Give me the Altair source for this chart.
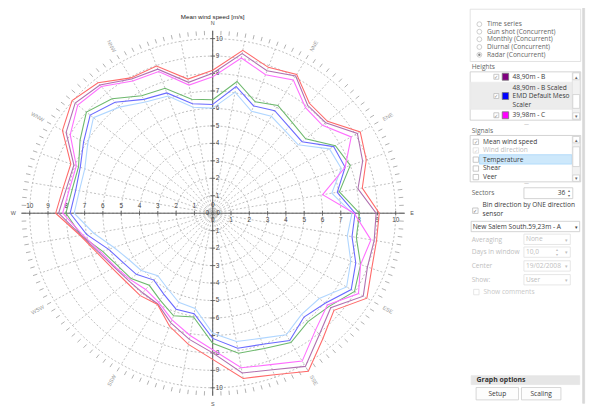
import altair as alt
import pandas as pd

# ---------------- data ----------------
sector_angles = [0, 10, 20, 30, 40, 50, 60, 70, 80, 90, 100, 110, 120, 130, 140, 150, 160, 170,
                 180, 190, 200, 210, 220, 230, 240, 250, 260, 270, 280, 290, 300, 310, 320, 330, 340, 350]

speed_red = [8.19, 9.47, 8.89, 9.18, 8.22, 8.19, 9.31, 8.93, 8.30, 9.10, 9.09, 9.25, 9.73, 8.65, 9.37, 10.45, 9.84, 9.61,
             8.37, 7.63, 6.89, 6.03, 6.16, 6.15, 6.33, 6.70, 7.35, 8.58, 8.30, 8.25, 9.48, 10.03, 9.75, 8.95, 8.97, 7.80]
speed_purple = [8.02, 9.28, 8.68, 9.07, 8.07, 8.06, 9.13, 8.72, 8.06, 8.93, 8.96, 9.00, 9.50, 8.42, 9.07, 10.13, 9.54, 9.29,
                8.00, 7.34, 6.68, 6.00, 5.95, 6.00, 6.20, 6.60, 7.30, 8.42, 8.12, 8.07, 9.25, 9.81, 9.59, 8.87, 8.78, 7.61]
speed_magenta = [7.81, 9.03, 8.44, 8.81, 7.89, 7.83, 8.74, 7.70, 6.10, 7.73, 8.78, 8.60, 9.20, 8.18, 8.74, 9.78, 9.23, 8.99,
                 7.82, 7.11, 6.50, 5.90, 5.70, 5.90, 6.15, 6.50, 7.20, 8.20, 7.95, 7.93, 8.99, 9.63, 9.47, 8.74, 8.63, 7.45]
speed_green = [6.50, 7.66, 6.79, 7.13, 6.77, 6.63, 7.74, 8.00, 7.03, 8.02, 7.97, 8.60, 8.95, 8.30, 8.10, 8.55, 8.24, 8.14,
               7.45, 6.03, 6.25, 5.75, 5.39, 5.82, 6.00, 6.40, 7.30, 8.02, 7.80, 7.80, 8.37, 9.01, 8.56, 7.77, 7.61, 6.63]
speed_blue = [6.23, 7.37, 6.54, 6.78, 6.47, 6.37, 7.63, 7.70, 6.91, 7.78, 7.73, 8.32, 8.74, 8.02, 7.76, 8.42, 7.99, 7.85,
              7.17, 5.84, 5.85, 5.35, 5.00, 5.45, 5.65, 6.05, 7.00, 7.79, 7.60, 7.70, 8.15, 8.74, 8.30, 7.53, 7.33, 6.37]
speed_lightblue = [6.02, 7.04, 6.21, 6.41, 6.16, 6.10, 7.37, 7.48, 6.61, 7.61, 7.47, 8.03, 8.45, 7.60, 7.56, 8.04, 7.63, 7.46,
                   6.88, 5.54, 5.43, 4.96, 4.67, 5.10, 5.30, 5.74, 6.60, 7.57, 7.40, 7.44, 7.89, 8.51, 7.93, 7.35, 7.14, 6.16]

series_names = ["39,98m - C Scaled", "48,90m - B Scaled EMD Default Meso Scaler", "59,23m - A Scaled",
                "39,98m - C", "48,90m - B", "59,23m - A"]
series_values = [speed_lightblue, speed_blue, speed_green, speed_magenta, speed_purple, speed_red]
series_colors = ["#b0d6ff", "#6a6aff", "#6db86d", "#ff6eff", "#b070b0", "#ff6a6a"]

ring_values = [1, 2, 3, 4, 5, 6, 7, 8, 9, 10]
axis_numbers = [1, 2, 3, 4, 5, 6, 7, 8, 9, 10]
compass_main = ["N", "E", "S", "W"]
compass_main_angles = [0, 90, 180, 270]
compass_minor = ["NNE", "ENE", "ESE", "SSE", "SSW", "WSW", "WNW", "NNW"]
compass_minor_angles = [30, 60, 120, 150, 210, 240, 300, 330]

# ---------------- layout ----------------
M = 8                      # page margin
W, H = 593, 398
CX, CY = 215.5 - M, 213.3 - M
KX, KY = 18.55, 17.7       # px per m/s
xs = alt.Scale(domain=[-CX / KX, (W - CX) / KX], nice=False, zero=False)
ys = alt.Scale(domain=[(CY - H) / KY, CY / KY], nice=False, zero=False)
FONT = "Liberation Sans"
UIFONT = "Open Sans"


def polar(chart, r, a, px="px", py="py"):
    return chart.transform_calculate(**{
        px: f"{r}*sin(({a})*PI/180)",
        py: f"{r}*cos(({a})*PI/180)",
    })


X = lambda f: alt.X(f"{f}:Q", scale=xs, axis=None)
Y = lambda f: alt.Y(f"{f}:Q", scale=ys, axis=None)

# series table
rows = []
for name, vals in zip(series_names, series_values):
    for i, (a, v) in enumerate(zip(sector_angles + [360], vals + [vals[0]])):
        rows.append({"series": name, "angle": a, "speed": v, "order": i})
df = pd.DataFrame(rows)

# grid rings
ring_df = pd.DataFrame([{"ring": r, "a": a} for r in ring_values for a in range(0, 361, 3)])
rings = polar(alt.Chart(ring_df), "datum.ring", "datum.a").mark_line(
    color="#a3a3a3", strokeWidth=0.7, strokeDash=[2, 2]).encode(
    x=X("px"), y=Y("py"), detail="ring:N", order="a:Q")

# spokes
spoke_df = pd.DataFrame({"a": sector_angles})
spokes = polar(alt.Chart(spoke_df), "10", "datum.a").transform_calculate(z="0").mark_rule(
    color="#a6a6a6", strokeWidth=0.7, strokeDash=[2, 2]).encode(
    x=X("z"), y=Y("z"), x2="px:Q", y2="py:Q")

# outer tick ring
otick_df = pd.DataFrame({"a": [i * 2.5 for i in range(144)]})
oticks = polar(polar(alt.Chart(otick_df), "10.2", "datum.a", "ax", "ay"), "10.45", "datum.a", "bx", "by").mark_rule(
    color="#8f8f8f", strokeWidth=0.7).encode(x=X("ax"), y=Y("ay"), x2="bx:Q", y2="by:Q")

# main axes
ax_df = pd.DataFrame({"x1": [-10.45, 0], "y1": [0, -10.45], "x2": [10.5, 0], "y2": [0, 10.45]})
axes = alt.Chart(ax_df).mark_rule(color="#555555", strokeWidth=1).encode(
    x=X("x1"), y=Y("y1"), x2="x2:Q", y2="y2:Q")

tick_rows = []
for n in axis_numbers:
    for s in (-1, 1):
        tick_rows.append({"x1": s * n, "y1": -0.13, "x2": s * n, "y2": 0.13})
        tick_rows.append({"x1": -0.13, "y1": s * n, "x2": 0.13, "y2": s * n})
axticks = alt.Chart(pd.DataFrame(tick_rows)).mark_rule(color="#555555", strokeWidth=0.8).encode(
    x=X("x1"), y=Y("y1"), x2="x2:Q", y2="y2:Q")

# axis number labels
num_left = pd.DataFrame({"v": [-n for n in axis_numbers], "t": [str(n) for n in axis_numbers], "z": 0})
num_right = pd.DataFrame({"v": axis_numbers, "t": [str(n) for n in axis_numbers], "z": 0})
num_vert = pd.DataFrame({"v": axis_numbers + [-n for n in axis_numbers],
                         "t": [str(n) for n in axis_numbers] * 2, "z": 0})
lab_kw = dict(font=FONT, fontSize=6.5, color="#444444")
lab_left = alt.Chart(num_left).mark_text(dy=-7, **lab_kw).encode(x=X("v"), y=Y("z"), text="t:N")
lab_right = alt.Chart(num_right).mark_text(dy=7, **lab_kw).encode(x=X("v"), y=Y("z"), text="t:N")
lab_vert = alt.Chart(num_vert).mark_text(dx=3, align="left", **lab_kw).encode(x=X("z"), y=Y("v"), text="t:N")
zero_df = pd.DataFrame({"x": [0, 0, -0.3, 0.3], "y": [0.45, -0.4, 0, 0], "t": ["0", "0", "0", "0"]})
lab_zero = alt.Chart(zero_df).mark_text(**lab_kw).encode(x=X("x"), y=Y("y"), text="t:N")
center_ring = alt.Chart(pd.DataFrame({"x": [0], "y": [0]})).mark_point(
    shape="circle", size=40, filled=False, color="#777777", strokeWidth=0.7).encode(x=X("x"), y=Y("y"))

# compass labels
cm_df = pd.DataFrame({"a": compass_main_angles, "t": compass_main})
compass1 = polar(alt.Chart(cm_df), "10.9", "datum.a").mark_text(
    font=FONT, fontSize=5.5, color="#555555").encode(x=X("px"), y=Y("py"), text="t:N")


def rot(theta):
    phi = 90 - theta
    while phi > 90:
        phi -= 180
    while phi <= -90:
        phi += 180
    return (-phi) % 360


cn_df = pd.DataFrame({"a": compass_minor_angles, "t": compass_minor,
                      "rot": [rot(t) for t in compass_minor_angles]})
compass2 = polar(alt.Chart(cn_df), "11.05", "datum.a").mark_text(
    font=FONT, fontSize=5.5, color="#9a9a9a").encode(
    x=X("px"), y=Y("py"), text="t:N", angle=alt.Angle("rot:Q", scale=None))

title = alt.Chart(pd.DataFrame({"x": [0], "y": [(213.3 - 14.5) / KY], "t": ["Mean wind speed [m/s]"]})).mark_text(
    font=FONT, fontSize=6.3, color="#222222").encode(x=X("x"), y=Y("y"), text="t:N")

# series lines
lines = polar(alt.Chart(df), "datum.speed", "datum.angle").mark_line(strokeWidth=1.1).encode(
    x=X("px"), y=Y("py"),
    color=alt.Color("series:N", scale=alt.Scale(domain=series_names, range=series_colors), legend=None),
    detail="series:N", order="order:Q")

# ---------------- side panel (page pixel coordinates) ----------------
rects = [
    # x1, y1, x2, y2, fill, stroke
    (590.5, 0, 592.5, 406, "#d9d9d9", "#d9d9d9"),
    (476.5, 6.5, 588.5, 59.5, "#ffffff", "#dcdcdc"),
    (476.5, 70, 588.5, 119, "#ffffff", "#c8c8c8"),
    (477, 80.5, 580, 108, "#ececec", "#ececec"),
    (580, 70.5, 588, 118.5, "#f2f2f2", "#dddddd"),
    (580.5, 71, 587.5, 78, "#ffffff", "#cfcfcf"),
    (580.5, 93, 587.5, 107, "#ffffff", "#cfcfcf"),
    (580.5, 111.5, 587.5, 118, "#ffffff", "#cfcfcf"),
    (500.5, 72.5, 505.5, 77.5, "#ffffff", "#bbbbbb"),
    (500.5, 92, 505.5, 97, "#ffffff", "#bbbbbb"),
    (500.5, 111.5, 505.5, 116.5, "#ffffff", "#bbbbbb"),
    (509, 71.5, 515.5, 78.5, "#800080", "#777777"),
    (509, 91, 515.5, 98, "#0000ff", "#777777"),
    (509, 110.5, 515.5, 117.5, "#ff00ff", "#777777"),
    (476.5, 134.5, 588.5, 181.5, "#ffffff", "#c8c8c8"),
    (486, 154, 579.5, 163.5, "#cde8fb", "#a8d6fa"),
    (580, 135, 588, 181, "#f2f2f2", "#dddddd"),
    (580.5, 135.5, 587.5, 142, "#ffffff", "#cfcfcf"),
    (580.5, 146, 587.5, 166, "#ffffff", "#cfcfcf"),
    (580.5, 174.5, 587.5, 181, "#ffffff", "#cfcfcf"),
    (479.5, 138.3, 485, 143.7, "#ffffff", "#bbbbbb"),
    (479.5, 147, 485, 152.4, "#ffffff", "#dddddd"),
    (479.5, 156.3, 485, 161.7, "#ffffff", "#bbbbbb"),
    (479.5, 165.3, 485, 170.7, "#ffffff", "#bbbbbb"),
    (479.5, 174, 485, 179.4, "#ffffff", "#bbbbbb"),
    (531, 187.5, 580.5, 198.5, "#ffffff", "#c8c8c8"),
    (479, 208, 484.5, 213.5, "#ffffff", "#bbbbbb"),
    (477.5, 221.5, 587.5, 232, "#ffffff", "#c8c8c8"),
    (531, 234.5, 578, 245, "#ffffff", "#e0e0e0"),
    (531, 247.5, 578, 258, "#ffffff", "#e0e0e0"),
    (531, 261.5, 578, 272, "#ffffff", "#e0e0e0"),
    (531, 275.5, 578, 286, "#ffffff", "#e0e0e0"),
    (480, 290.5, 485.5, 296, "#ffffff", "#e0e0e0"),
    (477.5, 378, 587.5, 387, "#e6e6e6", "#e6e6e6"),
    (482.5, 390, 525.5, 402.5, "#fdfdfd", "#cccccc"),
    (528.5, 390, 568.5, 402.5, "#fdfdfd", "#cccccc"),
]
rect_df = pd.DataFrame(rects, columns=["x1", "y1", "x2", "y2", "fill", "stroke"])
for c in ["x1", "x2", "y1", "y2"]:
    rect_df[c] = rect_df[c] - M
ui_rects = alt.Chart(rect_df).mark_rect(strokeWidth=0.8).encode(
    x=alt.X("x1:Q", scale=None), x2="x2:Q", y=alt.Y("y1:Q", scale=None), y2="y2:Q",
    fill=alt.Fill("fill:N", scale=None), stroke=alt.Stroke("stroke:N", scale=None))

G, L, D = "#666666", "#c0c0c0", "#3a3a3a"
T = 6.7
texts = [
    # x, y, text, color, size, align
    (493.5, 21.7, "Time series", G, T, "left"),
    (493.5, 29.3, "Gun shot (Concurrent)", G, T, "left"),
    (493.5, 37.0, "Monthly (Concurrent)", G, T, "left"),
    (493.5, 44.8, "Diurnal (Concurrent)", G, T, "left"),
    (493.5, 52.7, "Radar (Concurrent)", G, T, "left"),
    (478, 65, "Heights", G, T, "left"),
    (519.5, 75.5, "48,90m - B", D, T, "left"),
    (519.5, 86.6, "48,90m - B Scaled", D, T, "left"),
    (519.5, 95.0, "EMD Default Meso", D, T, "left"),
    (519.5, 103.4, "Scaler", D, T, "left"),
    (519.5, 114.2, "39,98m - C", D, T, "left"),
    (478, 129.5, "Signals", G, T, "left"),
    (489.5, 141, "Mean wind speed", D, T, "left"),
    (489.5, 149.7, "Wind direction", L, T, "left"),
    (489.5, 159, "Temperature", D, T, "left"),
    (489.5, 168, "Shear", D, T, "left"),
    (489.5, 176.7, "Veer", D, T, "left"),
    (478, 192.8, "Sectors", G, T, "left"),
    (573, 193, "36", D, T, "right"),
    (489, 205.5, "Bin direction by ONE direction", D, T, "left"),
    (489, 214.3, "sensor", D, T, "left"),
    (479, 226.8, "New Salem South.59,23m - A", D, T, "left"),
    (478, 240, "Averaging", L, T, "left"),
    (533, 239.7, "None", L, T, "left"),
    (478, 252.8, "Days in window", L, T, "left"),
    (533, 252.8, "10,0", L, T, "left"),
    (478, 266.8, "Center", L, T, "left"),
    (533, 266.8, "19/02/2008", L, T, "left"),
    (478, 280.8, "Show:", L, T, "left"),
    (533, 280.8, "User", L, T, "left"),
    (490, 293.4, "Show comments", "#c8c8c8", T, "left"),
    (504, 396.5, "Setup", D, T, "center"),
    (548.5, 396.5, "Scaling", D, T, "center"),
    (584, 74.8, "▴", G, 5, "center"),
    (584, 115, "▾", G, 5, "center"),
    (584, 139, "▴", G, 5, "center"),
    (584, 178, "▾", G, 5, "center"),
    (577, 190.8, "▴", G, 4, "center"),
    (577, 195.6, "▾", G, 4, "center"),
    (584, 227, "▾", D, 5, "center"),
    (574, 240, "▾", L, 5, "center"),
    (574, 253, "▾", L, 5, "center"),
    (565, 250.6, "▴", L, 4, "center"),
    (565, 255.2, "▾", L, 4, "center"),
    (574, 267, "▾", L, 5, "center"),
    (574, 281, "▾", L, 5, "center"),
    (503, 75.3, "✓", "#888888", 5.5, "center"),
    (503, 94.8, "✓", "#888888", 5.5, "center"),
    (503, 114.3, "✓", "#888888", 5.5, "center"),
    (482.3, 141.2, "✓", "#888888", 5.5, "center"),
    (482.3, 149.9, "✓", "#cccccc", 5.5, "center"),
    (481.8, 211, "✓", "#666666", 5.5, "center"),
    (533.5, 123.3, "—", "#aaaaaa", 5, "center"),
    (533.5, 182.8, "—", "#aaaaaa", 5, "center"),
]
tdf = pd.DataFrame(texts, columns=["x", "y", "text", "color", "size", "align"])
tdf["x"] = tdf["x"] - M
tdf["y"] = tdf["y"] - M
ui_text_layers = []
for al in ["left", "center", "right"]:
    sub = tdf[tdf["align"] == al]
    ui_text_layers.append(alt.Chart(sub).mark_text(align=al, baseline="middle", font=UIFONT).encode(
        x=alt.X("x:Q", scale=None), y=alt.Y("y:Q", scale=None), text="text:N",
        color=alt.Color("color:N", scale=None), size=alt.Size("size:Q", scale=None)))

bold_df = pd.DataFrame({"x": [483 - M], "y": [382.7 - M], "text": ["Graph options"]})
ui_bold = alt.Chart(bold_df).mark_text(align="left", baseline="middle", font=UIFONT, fontSize=7,
                                       fontWeight="bold", color="#333333").encode(
    x=alt.X("x:Q", scale=None), y=alt.Y("y:Q", scale=None), text="text:N")

radio_y = [21.7, 29.3, 37.0, 44.8, 52.7]
radio_df = pd.DataFrame({"x": [485.8 - M] * 5, "y": [v - M for v in radio_y]})
radios = alt.Chart(radio_df).mark_point(shape="circle", size=24, filled=False, color="#aaaaaa",
                                        strokeWidth=0.8).encode(
    x=alt.X("x:Q", scale=None), y=alt.Y("y:Q", scale=None))
radio_sel = alt.Chart(radio_df.iloc[[4]]).mark_point(shape="circle", size=6, filled=True, color="#555555").encode(
    x=alt.X("x:Q", scale=None), y=alt.Y("y:Q", scale=None))

chart = alt.layer(
    rings, spokes, oticks, axes, axticks, center_ring,
    lab_left, lab_right, lab_vert, lab_zero, compass1, compass2, title,
    lines,
    ui_rects, *ui_text_layers, ui_bold, radios, radio_sel,
).resolve_scale(
    x="independent", y="independent", color="independent", size="independent",
    fill="independent", stroke="independent", angle="independent"
).properties(
    width=W, height=H, padding=0, autosize=alt.AutoSizeParams(type="none")
).configure_view(strokeWidth=0)

chart.save("out.html", embed_options={"renderer": "svg", "actions": False})
